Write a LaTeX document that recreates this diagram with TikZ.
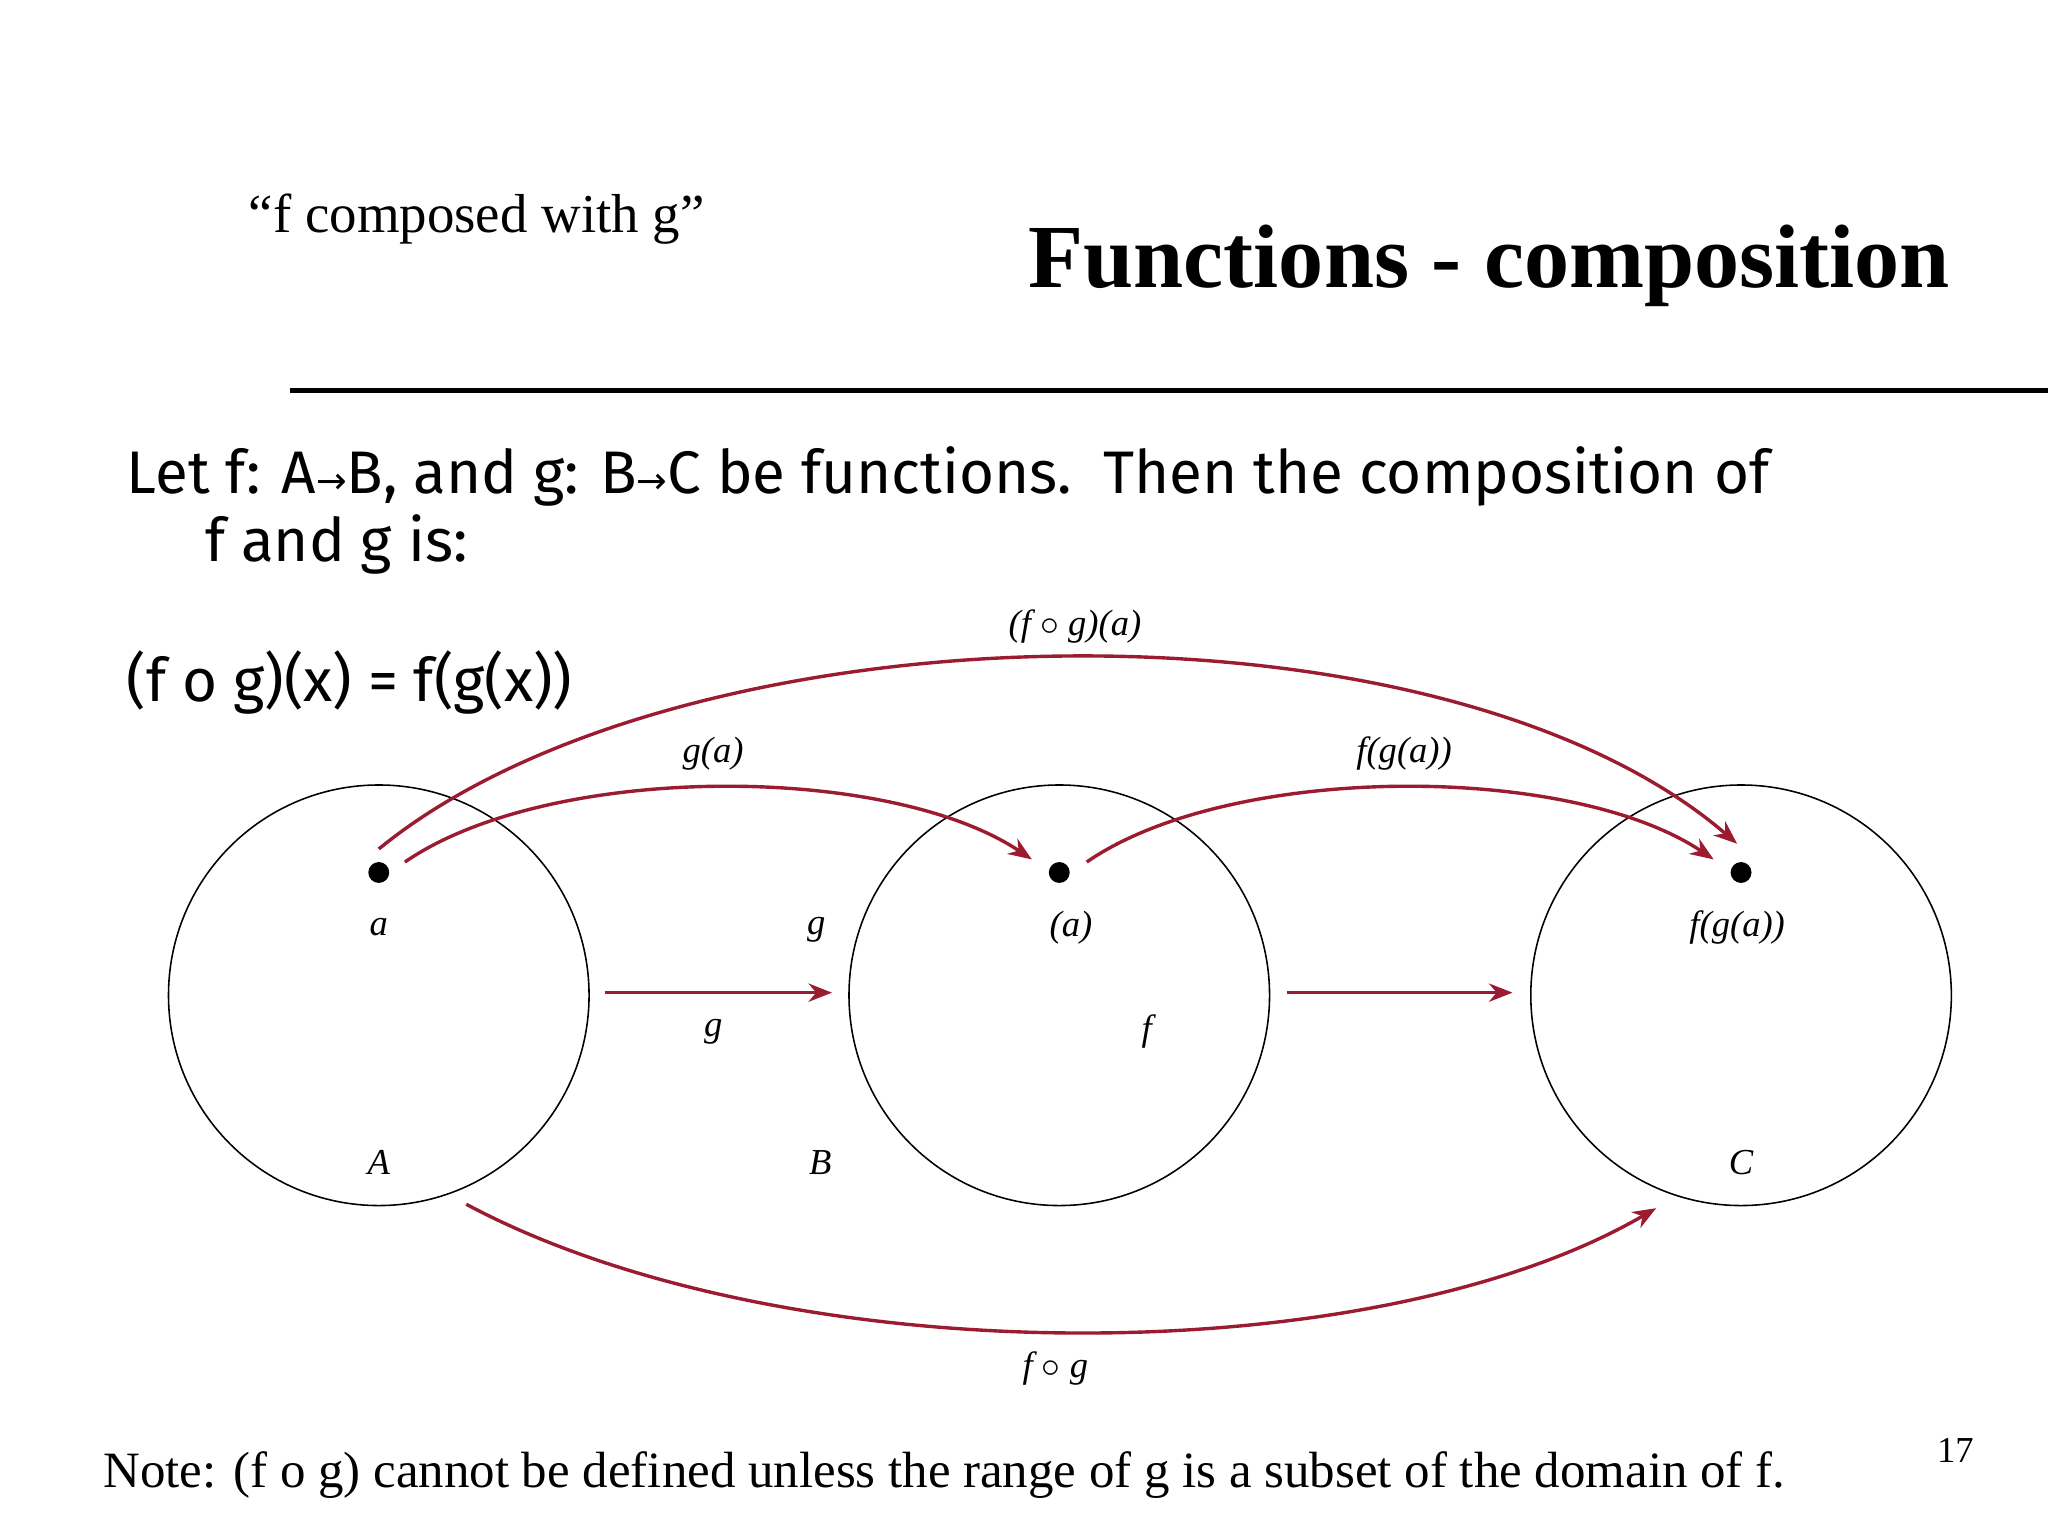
\documentclass[tikz,border=0pt]{standalone}
\usepackage{fontspec}
\setmainfont{Liberation Serif}
\newfontfamily\comicf{Fira Sans}
\newfontfamily\symf{DejaVu Sans}
\usetikzlibrary{arrows.meta}
\definecolor{dred}{HTML}{9B1B30}
\begin{document}
\begin{tikzpicture}[x=0.5pt,y=-0.5pt,
  arr/.style={draw=dred,line width=1.3pt,-{Stealth[length=9pt,width=7pt]}},
  lab/.style={font=\fontsize{14}{16}\selectfont\itshape},
  set/.style={draw,circle,line width=0.6pt,minimum size=161pt,inner sep=0pt},
  dot/.style={circle,fill,inner sep=0pt,minimum size=8pt},
  body/.style={font=\comicf\fontsize{23}{27}\selectfont,anchor=base west}]
\useasboundingbox (0,0) rectangle (1568,1176);
\node[anchor=base,font=\fontsize{21}{24}\selectfont] (sub) at (365,178) {“f composed with g”};
\node[anchor=base east,font=\bfseries\fontsize{34.5}{40}\selectfont] (title) at (1500,220) {Functions - composition};
\coordinate (l1) at (222,299); \coordinate (l2) at (1568,299);
\draw[line width=2pt] (l1) -- (l2);
\node[body] (t1) at (90,378) {Let f: A{\symf\fontsize{14}{16}\selectfont→}B, and g: B{\symf\fontsize{14}{16}\selectfont→}C be functions.\ \ Then the composition of};
\node[body] (t2) at (150,430) {f and g is:};
\node[body] (t3) at (90,537) {(f o g)(x) = f(g(x))};
\node[set] (A) at (290,762) {};
\node[set] (B) at (811,762) {};
\node[set] (C) at (1333,762) {};
\node[dot] (a) at (290,668) {};
\node[dot] (b) at (811,668) {};
\node[dot] (c) at (1333,668) {};
\node[lab] (la) at (290,710) {a};
\node[lab] (lb) at (820,710) {(a)};
\node[lab] (lc) at (1330,710) {f(g(a))};
\node[lab] (g1) at (625,712) {g};
\node[lab] (g2) at (546,790) {g};
\node[lab] (f1) at (878,790) {f};
\node[lab] (LA) at (290,890) {A};
\node[lab] (LB) at (628,890) {B};
\node[lab] (LC) at (1333,890) {C};
\node[lab] (ga) at (546,577) {g(a)};
\node[lab] (fga) at (1075,577) {f(g(a))};
\node[lab] (fgaa) at (823,480) {(f $\circ$ g)(a)};
\node[lab] (fg) at (808,1048) {f $\circ$ g};
\coordinate (s1) at (463,760); \coordinate (e1) at (637,760);
\coordinate (s2) at (985,760); \coordinate (e2) at (1158,760);
\draw[arr] (s1) -- (e1);
\draw[arr] (s2) -- (e2);
\coordinate (p1) at (310,660); \coordinate (q1) at (790,658);
\draw[arr] (p1) .. controls (420,584) and (680,584) .. (q1);
\coordinate (p2) at (832,660); \coordinate (q2) at (1312,658);
\draw[arr] (p2) .. controls (942,584) and (1202,584) .. (q2);
\coordinate (p3) at (290,650); \coordinate (q3) at (1330,646);
\draw[arr] (p3) .. controls (520,462) and (1100,448) .. (q3);
\coordinate (p4) at (357,922); \coordinate (q4) at (1268,925);
\draw[arr] (p4) .. controls (600,1052) and (1050,1052) .. (q4);
\node[anchor=base west,font=\fontsize{19.5}{22}\selectfont] (note) at (72,1139) {Note: (f o g) cannot be defined unless the range of g is a subset of the domain of f.};
\node[anchor=base,font=\fontsize{14}{16}\selectfont] (pg) at (1497,1120) {17};
\end{tikzpicture}
\end{document}
